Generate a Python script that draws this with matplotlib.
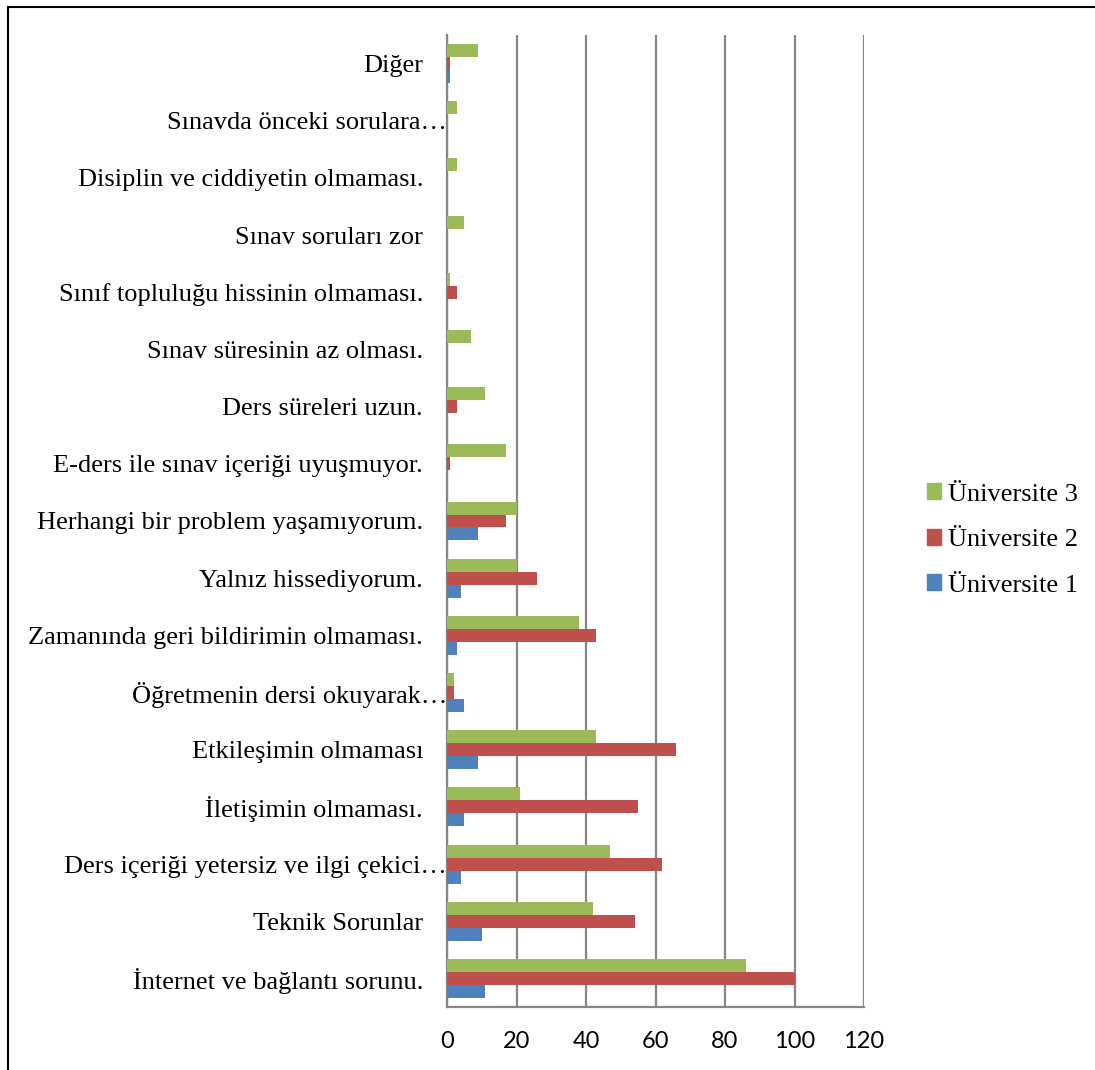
import numpy as np
import matplotlib.pyplot as plt
from matplotlib.transforms import ScaledTranslation
from matplotlib.patches import Patch
from matplotlib.lines import Line2D

# categories, bottom to top as drawn
categories = [
    'İnternet ve bağlantı sorunu.',
    'Teknik Sorunlar',
    'Ders içeriği yetersiz ve ilgi çekici…',
    'İletişimin olmaması.',
    'Etkileşimin olmaması',
    'Öğretmenin dersi okuyarak…',
    'Zamanında geri bildirimin olmaması.',
    'Yalnız hissediyorum.',
    'Herhangi bir problem yaşamıyorum.',
    'E-ders ile sınav içeriği uyuşmuyor.',
    'Ders süreleri uzun.',
    'Sınav süresinin az olması.',
    'Sınıf topluluğu hissinin olmaması.',
    'Sınav soruları zor',
    'Disiplin ve ciddiyetin olmaması.',
    'Sınavda önceki sorulara…',
    'Diğer',
]
uni1 = [11, 10, 4, 5, 9, 5, 3, 4, 9, 0, 0, 0, 0, 0, 0, 0, 1]
uni2 = [100, 54, 62, 55, 66, 2, 43, 26, 17, 1, 3, 0, 3, 0, 0, 0, 1]
uni3 = [86, 42, 47, 21, 43, 2, 38, 20, 20, 17, 11, 7, 1, 5, 3, 3, 9]

c1, c2, c3 = '#4F81BD', '#C0504D', '#9BBB59'
grid_c = '#868686'

fig = plt.figure(figsize=(10.95, 10.70), dpi=100)
ax = fig.add_axes([447 / 1095, 1 - 1007 / 1070, 417 / 1095, 972 / 1070])

y = np.arange(len(categories))
h = 0.227
ax.barh(y - h, uni1, height=h, color=c1, label='Üniversite 1', zorder=3)
ax.barh(y, uni2, height=h, color=c2, label='Üniversite 2', zorder=3)
ax.barh(y + h, uni3, height=h, color=c3, label='Üniversite 3', zorder=3)

ax.set_xlim(0, 120)
ax.set_ylim(-0.5, len(categories) - 0.5)
ax.set_xticks(range(0, 121, 20))
ax.tick_params(axis='x', length=0, pad=17, labelsize=17)
for lab in ax.get_xticklabels():
    lab.set_fontfamily('Lato')

ax.set_yticks(y)
ax.set_yticklabels(categories, fontfamily='Liberation Serif', fontsize=19)
ax.tick_params(axis='y', length=0, pad=0)
# non-truncated labels sit a little further from the axis
for lab in ax.get_yticklabels():
    if not lab.get_text().endswith('…'):
        lab.set_transform(lab.get_transform() + ScaledTranslation(-0.24, 0, fig.dpi_scale_trans))

ax.grid(axis='x', color=grid_c, linewidth=1.6, zorder=0)
for s in ['top', 'right']:
    ax.spines[s].set_visible(False)
for s in ['left', 'bottom']:
    ax.spines[s].set_color(grid_c)
    ax.spines[s].set_linewidth(1.6)

handles = [Patch(color=c3), Patch(color=c2), Patch(color=c1)]
fig.legend(handles, ['Üniversite 3', 'Üniversite 2', 'Üniversite 1'],
           loc='center left', bbox_to_anchor=(903 / 1095, 1 - 540 / 1070),
           frameon=False, prop={'family': 'Liberation Serif', 'size': 19},
           handlelength=0.55, handleheight=0.55, handletextpad=0.25,
           labelspacing=0.88)

# outer frame (left and top edges visible)
fig.add_artist(Line2D([7.5 / 1095, 7.5 / 1095], [0, 1 - 6.5 / 1070], color='black', lw=1.5,
                      transform=fig.transFigure))
fig.add_artist(Line2D([7.5 / 1095, 1], [1 - 6.5 / 1070, 1 - 6.5 / 1070], color='black', lw=1.5,
                      transform=fig.transFigure))

fig.savefig('out.png', dpi=100)
